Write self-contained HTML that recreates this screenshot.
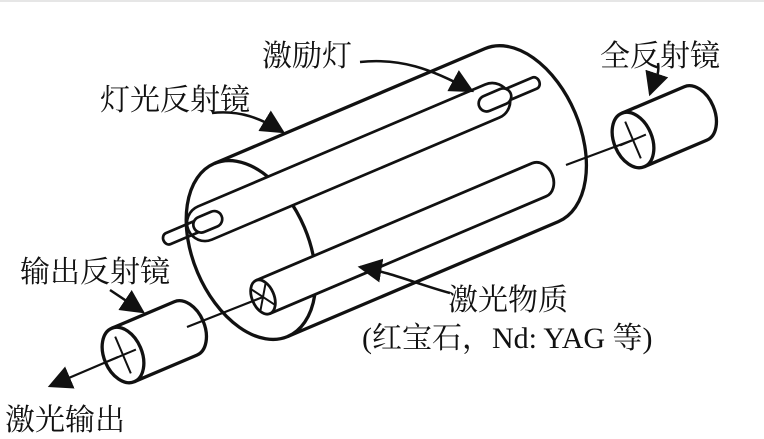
<!DOCTYPE html>
<html><head><meta charset="utf-8"><style>
html,body{margin:0;padding:0;background:#fff}
svg{display:block}
text{font-family:"Liberation Serif","Noto Serif CJK SC","Noto Sans CJK SC",serif;fill:#111;font-size:30px}
</style></head><body>
<svg width="764" height="439" viewBox="0 0 764 439" xmlns="http://www.w3.org/2000/svg">
<defs>
<marker id="ahb" viewBox="0 0 10 10" refX="9" refY="5" markerWidth="24" markerHeight="24" markerUnits="userSpaceOnUse" orient="auto">
<path d="M0,0 L10,5 L0,10 z" fill="#111"/></marker>
</defs>
<line x1="0" y1="1" x2="764" y2="1" stroke="#e6e6e6" stroke-width="2"/>
<g fill="none" stroke="#111" stroke-width="3.3">
<!-- big cylinder -->
<g transform="translate(251,250) rotate(-23)">
<path d="M0,-94 L294,-94 A58,94 0 0 1 294,94 L0,94" fill="#fff"/>
<ellipse cx="0" cy="0" rx="58" ry="94"/>
</g>
<!-- flash lamp -->
<g transform="translate(205,223) rotate(-23)" stroke-width="2.7">
<rect x="-18" y="-18" width="348" height="36" rx="18" fill="#fff"/>
<path d="M0,-6 L-40,-6 A5,6 0 0 0 -40,6 L0,6"/>
<rect x="-12" y="-8" width="30" height="16" rx="8" fill="#fff"/>
<path d="M320,-6 L358,-6 A5,6 0 0 1 358,6 L320,6"/>
<rect x="298" y="-8" width="34" height="16" rx="8" fill="#fff"/>
</g>
<!-- laser rod -->
<g transform="translate(263,297) rotate(-23)" stroke-width="2.8">
<path d="M0,-18 L300,-18 A14,18 0 0 1 300,18 L0,18" fill="#fff"/>
<ellipse cx="0" cy="0" rx="11" ry="18" fill="#fff"/>
<path d="M-8,-12 L8,12 M8,-12 L-8,12" stroke-width="2"/>
</g>
<!-- full mirror -->
<g transform="translate(633,140) rotate(-23)">
<path d="M0,-29 L68,-29 A19,29 0 0 1 68,29 L0,29" fill="#fff"/>
<ellipse cx="0" cy="0" rx="19" ry="29" fill="#fff"/>
<path d="M-14,0 L14,0 M0,-20 L0,20" stroke-width="2"/>
</g>
<!-- output mirror -->
<g transform="translate(123,355) rotate(-23)">
<path d="M0,-29 L68,-29 A19,29 0 0 1 68,29 L0,29" fill="#fff"/>
<ellipse cx="0" cy="0" rx="19" ry="29" fill="#fff"/>
<path d="M-14,0 L14,0 M0,-20 L0,20" stroke-width="2"/>
</g>
<!-- beam -->
<g stroke-width="2.2">
<line x1="118" y1="357" x2="50" y2="386" marker-end="url(#ahb)"/>
<line x1="187" y1="327" x2="263" y2="297"/>
<line x1="566" y1="165" x2="633" y2="140"/>
</g>
<!-- leaders -->
<g stroke-width="2.5">
<path d="M360,62 C400,58 430,68 472,91" marker-end="url(#ahb)"/>
<path d="M212,113 C240,110 260,118 283,132" marker-end="url(#ahb)"/>
<path d="M450,293 C420,285 390,272 360,267" marker-end="url(#ahb)"/>
<path d="M658,63 C660,75 654,82 650,94" marker-end="url(#ahb)"/>
<path d="M110,290 L143,312" marker-end="url(#ahb)"/>
</g>
</g>
<text x="262" y="66">激励灯</text>
<text x="100" y="110">灯光反射镜</text>
<text x="600" y="66">全反射镜</text>
<text x="20" y="282">输出反射镜</text>
<text x="448" y="310">激光物质</text>
<text x="362" y="348">(红宝石，Nd: YAG 等)</text>
<text x="5" y="430">激光输出</text>
</svg>
</body></html>
